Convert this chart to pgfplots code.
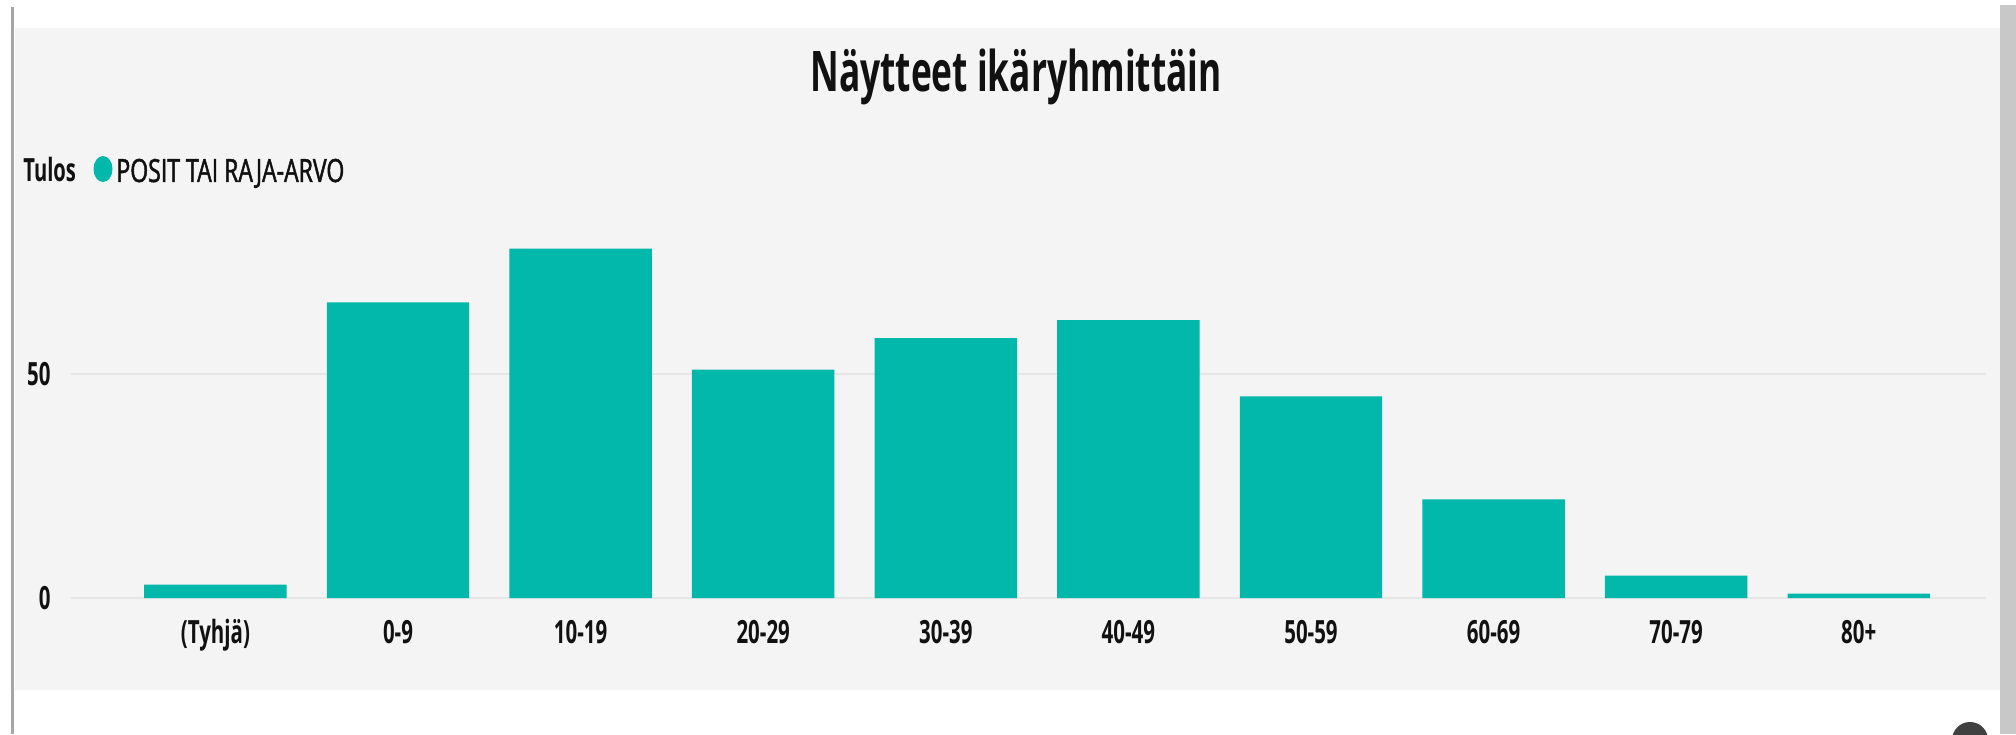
\documentclass[border=0pt]{standalone}
\usepackage{fontspec}
\setmainfont{Open Sans}
\newfontfamily\lblfont{Open Sans}[FakeStretch=0.64]
\newfontfamily\legfont{Open Sans}[FakeStretch=0.72,FakeBold=1.5]
\newfontfamily\ttlfont{Open Sans}[FakeStretch=0.63]
\usepackage{pgfplots}
\pgfplotsset{compat=1.18}
\definecolor{barc}{HTML}{01B8AA}
\definecolor{panel}{HTML}{F4F4F4}
\definecolor{gridc}{HTML}{E6E6E6}
\definecolor{txt}{HTML}{111111}
\definecolor{edgeL}{HTML}{A6A6A6}
\definecolor{edgeR}{HTML}{C8C8C8}
\begin{document}
\begin{tikzpicture}
% page frame (1 px = 0.5pt)
\fill[white] (0,0) rectangle (1008pt,367pt);
\fill[panel] (7.5pt,22pt) rectangle (1000pt,353pt);
\fill[edgeL] (5.5pt,0pt) rectangle (7pt,363.5pt);
\fill[edgeR] (1000pt,0pt) rectangle (1008pt,364.5pt);
\begin{scope}
\clip (0,0) rectangle (1008pt,367pt);
\fill[black!75] (985pt,-3pt) circle (9pt);
\end{scope}
% title
\node[anchor=base, text=txt, inner sep=0pt] at (508pt,321pt)
  {\ttlfont\bfseries\fontsize{28pt}{32pt}\selectfont Näytteet ikäryhmittäin};
% legend
\node[anchor=base west, text=txt, inner sep=0pt] at (11.5pt,276pt)
  {\ttlfont\bfseries\fontsize{16pt}{19pt}\selectfont Tulos};
\fill[barc] (51.5pt,282.5pt) ellipse (4.75pt and 6.5pt);
\node[anchor=base west, text=txt, inner sep=0pt] at (58pt,276pt)
  {\legfont\fontsize{16pt}{19pt}\selectfont POSIT TAI RAJA-ARVO};
\begin{axis}[
  at={(35.5pt,68pt)}, anchor=south west,
  scale only axis, width=957.5pt, height=179.2pt,
  xmin=-0.791, xmax=9.697, ymin=0, ymax=80,
  axis line style={draw=none},
  major tick length=0pt,
  xtick={0,1,2,3,4,5,6,7,8,9},
  xticklabels={(Tyhjä),0-9,10-19,20-29,30-39,40-49,50-59,60-69,70-79,80+},
  ytick={0,50},
  ymajorgrids, grid style={draw=gridc, line width=1pt},
  /pgf/number format/assume math mode=true,
  ticklabel style={font=\lblfont\bfseries\fontsize{16pt}{19pt}\selectfont, text=txt},
  xticklabel style={anchor=base, inner sep=0pt, yshift=-22.5pt},
  yticklabel style={anchor=east, inner sep=0pt, xshift=-10pt},
]
\addplot[ybar, bar width=0.78, fill=barc, draw=none] coordinates {
  (0,3) (1,66) (2,78) (3,51) (4,58) (5,62) (6,45) (7,22) (8,5) (9,1)
};
\end{axis}
\end{tikzpicture}
\end{document}
